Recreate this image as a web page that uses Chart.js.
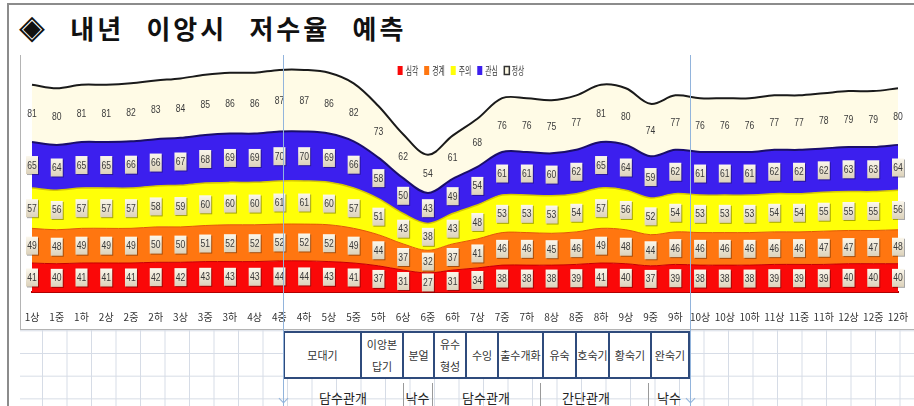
<!DOCTYPE html>
<html lang="ko">
<head>
<meta charset="utf-8">
<title>내년 이앙시 저수율 예측</title>
<script src="https://cdn.jsdelivr.net/npm/chart.js@4.4.1/dist/chart.umd.min.js"></script>
<style>
  html, body { margin: 0; padding: 0; background: #fff; }
  body { width: 914px; height: 406px; overflow: hidden; position: relative; font-family: "Noto Sans CJK KR", sans-serif; color: #222; }
  #page { position: absolute; left: 7px; top: 3px; width: 920px; height: 420px; border-top: 2px solid #8c8c8c; border-left: 2px solid #8c8c8c; }
  #title { position: absolute; left: 19px; top: 13px; font-size: 26px; line-height: 30px; font-weight: bold; letter-spacing: 3px; word-spacing: 12px; color: #111; white-space: nowrap; }
  #sheet { position: absolute; left: 20px; top: 329px; width: 894px; height: 77px;
    background-image: linear-gradient(to right, #d6dce6 1px, transparent 1px), linear-gradient(to bottom, #d6dce6 1px, transparent 1px);
    background-size: 24.5px 22.7px; background-position: 22px 0, 0 1.3px; }
  #frame { position: absolute; left: 20px; top: 55px; width: 894px; height: 275px; box-sizing: border-box; border-left: 1px solid #b4b4b4; border-bottom: 1px solid #b4b4b4; }
  #chartBox { position: absolute; left: 20px; top: 55px; width: 894px; height: 274px; }
  #stages { position: absolute; left: 283px; top: 331px; width: 405px; height: 42px; border-collapse: collapse; table-layout: fixed; background: #fff; }
  #stages td { border: 2px solid #2f4b7c; padding: 0; text-align: center; vertical-align: middle; font-size: 11px; line-height: 22px; color: #333; }
  .water { position: absolute; top: 388px; font-size: 13px; line-height: 20px; color: #222; text-align: center; }
  .sep { position: absolute; top: 383px; width: 1px; height: 23px; background: #9a9a9a; }
  .vline { position: absolute; top: 55px; width: 1px; height: 351px; background: #92b4dc; }
  .arrow { position: absolute; top: 395px; width: 6px; height: 6px; border-right: 1px solid #92b4dc; border-bottom: 1px solid #92b4dc; transform: rotate(45deg); }
</style>
</head>
<body>
<div id="page"></div>
<div id="title">◈ 내년 이앙시 저수율 예측</div>
<div id="sheet"></div>
<div id="frame"></div>
<div id="chartBox"><canvas id="storageChart"></canvas></div>

<table id="stages">
  <colgroup>
    <col style="width:77px"><col style="width:42px"><col style="width:31px"><col style="width:32px"><col style="width:32px">
    <col style="width:45px"><col style="width:33px"><col style="width:33px"><col style="width:42px"><col style="width:38px">
  </colgroup>
  <tr>
    <td>모대기</td><td>이앙본<br>답기</td><td>분얼</td><td>유수<br>형성</td><td>수잉</td>
    <td>출수개화</td><td>유숙</td><td>호숙기</td><td>황숙기</td><td>완숙기</td>
  </tr>
</table>

<div class="water" style="left:283px;width:120px">담수관개</div>
<div class="sep" style="left:403px"></div>
<div class="water" style="left:403px;width:29px">낙수</div>
<div class="sep" style="left:432px"></div>
<div class="water" style="left:432px;width:108px">담수관개</div>
<div class="sep" style="left:540px"></div>
<div class="water" style="left:532px;width:108px">간단관개</div>
<div class="sep" style="left:648px"></div>
<div class="water" style="left:648px;width:42px">낙수</div>

<div class="vline" style="left:283px"></div>
<div class="vline" style="left:690px"></div>
<div class="arrow" style="left:280px"></div>
<div class="arrow" style="left:687px"></div>

<script>
// 순기 (상/중/하순)
const periods = ["1상","1중","1하","2상","2중","2하","3상","3중","3하","4상","4중","4하",
  "5상","5중","5하","6상","6중","6하","7상","7중","7하","8상","8중","8하",
  "9상","9중","9하","10상","10상","10하","11상","11중","11하","12상","12중","12하"];

// 단계별 저수율 기준 (%)
const severe  = [41,40,41,41,41,42,42,43,43,43,44,44, 43,41,37,31,27,31,34,38,38,38,39,41, 40,37,39,38,38,38,39,39,39,40,40,40];
const alert   = [49,48,49,49,49,50,50,51,52,52,52,52, 52,49,44,37,32,37,41,46,46,45,46,49, 48,44,46,46,46,46,46,46,47,47,47,48];
const caution = [57,56,57,57,57,58,59,60,60,60,61,61, 60,57,51,43,38,43,48,53,53,53,54,57, 56,52,54,53,53,53,54,54,55,55,55,56];
const watch   = [65,64,65,65,66,66,67,68,69,69,70,70, 69,66,58,50,43,49,54,61,61,60,62,65, 64,59,62,61,61,61,62,62,62,63,63,64];
const normal  = [81,80,81,81,82,83,84,85,86,86,87,87, 86,82,73,62,54,61,68,76,76,75,77,81, 80,74,77,76,76,76,77,77,78,79,79,80];

const levelNames = ["심각", "경계", "주의", "관심", "정상"];
const levelData = [severe, alert, caution, watch, normal];
const fills   = ["#fa0808", "#ff7610", "#ffff08", "#3c1fee", "#fffbe6"];
const strokes = ["#c40000", "#e05c00", "#d6c800", "#1a0e6a", "#1a1a1a"];
const strokeWidths = [1, 1, 1.5, 2, 2];

// 각 구간 중앙에 값 표시 (박스 라벨)
const bandLabels = {
  id: "bandLabels",
  afterDatasetsDraw(chart) {
    const ctx = chart.ctx;
    const base = chart.scales.y.getPixelForValue(0);
    ctx.save();
    ctx.font = '11px "Liberation Sans", Arial, sans-serif';
    ctx.textAlign = "center";
    ctx.textBaseline = "middle";
    chart.data.datasets.forEach((ds, i) => {
      const meta = chart.getDatasetMeta(i);
      const prev = i > 0 ? chart.getDatasetMeta(i - 1) : null;
      meta.data.forEach((pt, j) => {
        const bottom = prev ? prev.data[j].y : base;
        const cx = pt.x;
        const cy = (pt.y + bottom) / 2;
        if (i < chart.data.datasets.length - 1) {
          ctx.fillStyle = "rgba(0,0,0,0.35)";
          ctx.fillRect(cx - 5, cy - 8, 12, 18);
          const g = ctx.createLinearGradient(0, cy - 9, 0, cy + 9);
          g.addColorStop(0, "#fbf7ec");
          g.addColorStop(1, "#dcd2bb");
          ctx.fillStyle = g;
          ctx.fillRect(cx - 6, cy - 9, 12, 18);
        }
        ctx.fillStyle = "#3a3a3a";
        ctx.save();
        ctx.translate(cx, cy + 0.5);
        ctx.scale(0.78, 1);
        ctx.fillText(String(ds.data[j]), 0, 0);
        ctx.restore();
      });
    });
    ctx.restore();
  }
};

// 좁은 글씨의 범례 (차트 영역 안 상단)
const narrowLegend = {
  id: "narrowLegend",
  afterDraw(chart) {
    const { ctx, chartArea } = chart;
    const sx = 0.62;
    ctx.save();
    ctx.font = '11px "Noto Sans CJK KR", sans-serif';
    ctx.textBaseline = "middle";
    const items = chart.data.datasets.map(ds => ({ ds, w: 8 + ctx.measureText(ds.label).width * sx }));
    const gap = 6;
    const total = items.reduce((s, it) => s + it.w, 0) + gap * (items.length - 1);
    let x = (chartArea.left + chartArea.right) / 2 - total / 2 - 4;
    const y = chartArea.top + 11;
    items.forEach(({ ds, w }, i) => {
      ctx.fillStyle = ds.backgroundColor;
      ctx.fillRect(x, y - 5, 5, 9);
      if (i === items.length - 1) {
        ctx.strokeStyle = "#333";
        ctx.lineWidth = 1.5;
        ctx.strokeRect(x + 0.5, y - 4.5, 5, 8);
      }
      ctx.save();
      ctx.translate(x + 8, y);
      ctx.scale(sx, 1);
      ctx.fillStyle = "#333";
      ctx.fillText(ds.label, 0, 0);
      ctx.restore();
      x += w + gap;
    });
    ctx.restore();
  }
};

new Chart(document.getElementById("storageChart"), {
  type: "line",
  data: {
    labels: periods,
    datasets: levelNames.map((name, i) => ({
      label: name,
      data: levelData[i],
      fill: i === 0 ? "origin" : "-1",
      backgroundColor: fills[i],
      borderColor: strokes[i],
      borderWidth: strokeWidths[i],
      pointRadius: 0,
      tension: 0.35
    }))
  },
  options: {
    responsive: true,
    maintainAspectRatio: false,
    animation: false,
    layout: { padding: { left: 12, right: 16, top: 5, bottom: 4 } },
    plugins: {
      legend: { display: false },
      tooltip: { enabled: false }
    },
    scales: {
      x: {
        grid: { display: false, drawTicks: true, tickLength: 18 },
        border: { display: true, color: "#b00000", width: 2 },
        ticks: {
          autoSkip: false,
          maxRotation: 0,
          padding: 1,
          color: "#333",
          font: { family: '"Noto Sans CJK KR", sans-serif', size: 10 }
        },
        afterFit: scale => { scale.height = 33; }
      },
      y: {
        display: false,
        stacked: true,
        min: 0,
        max: 328
      }
    }
  },
  plugins: [bandLabels, narrowLegend]
});
</script>
</body>
</html>
